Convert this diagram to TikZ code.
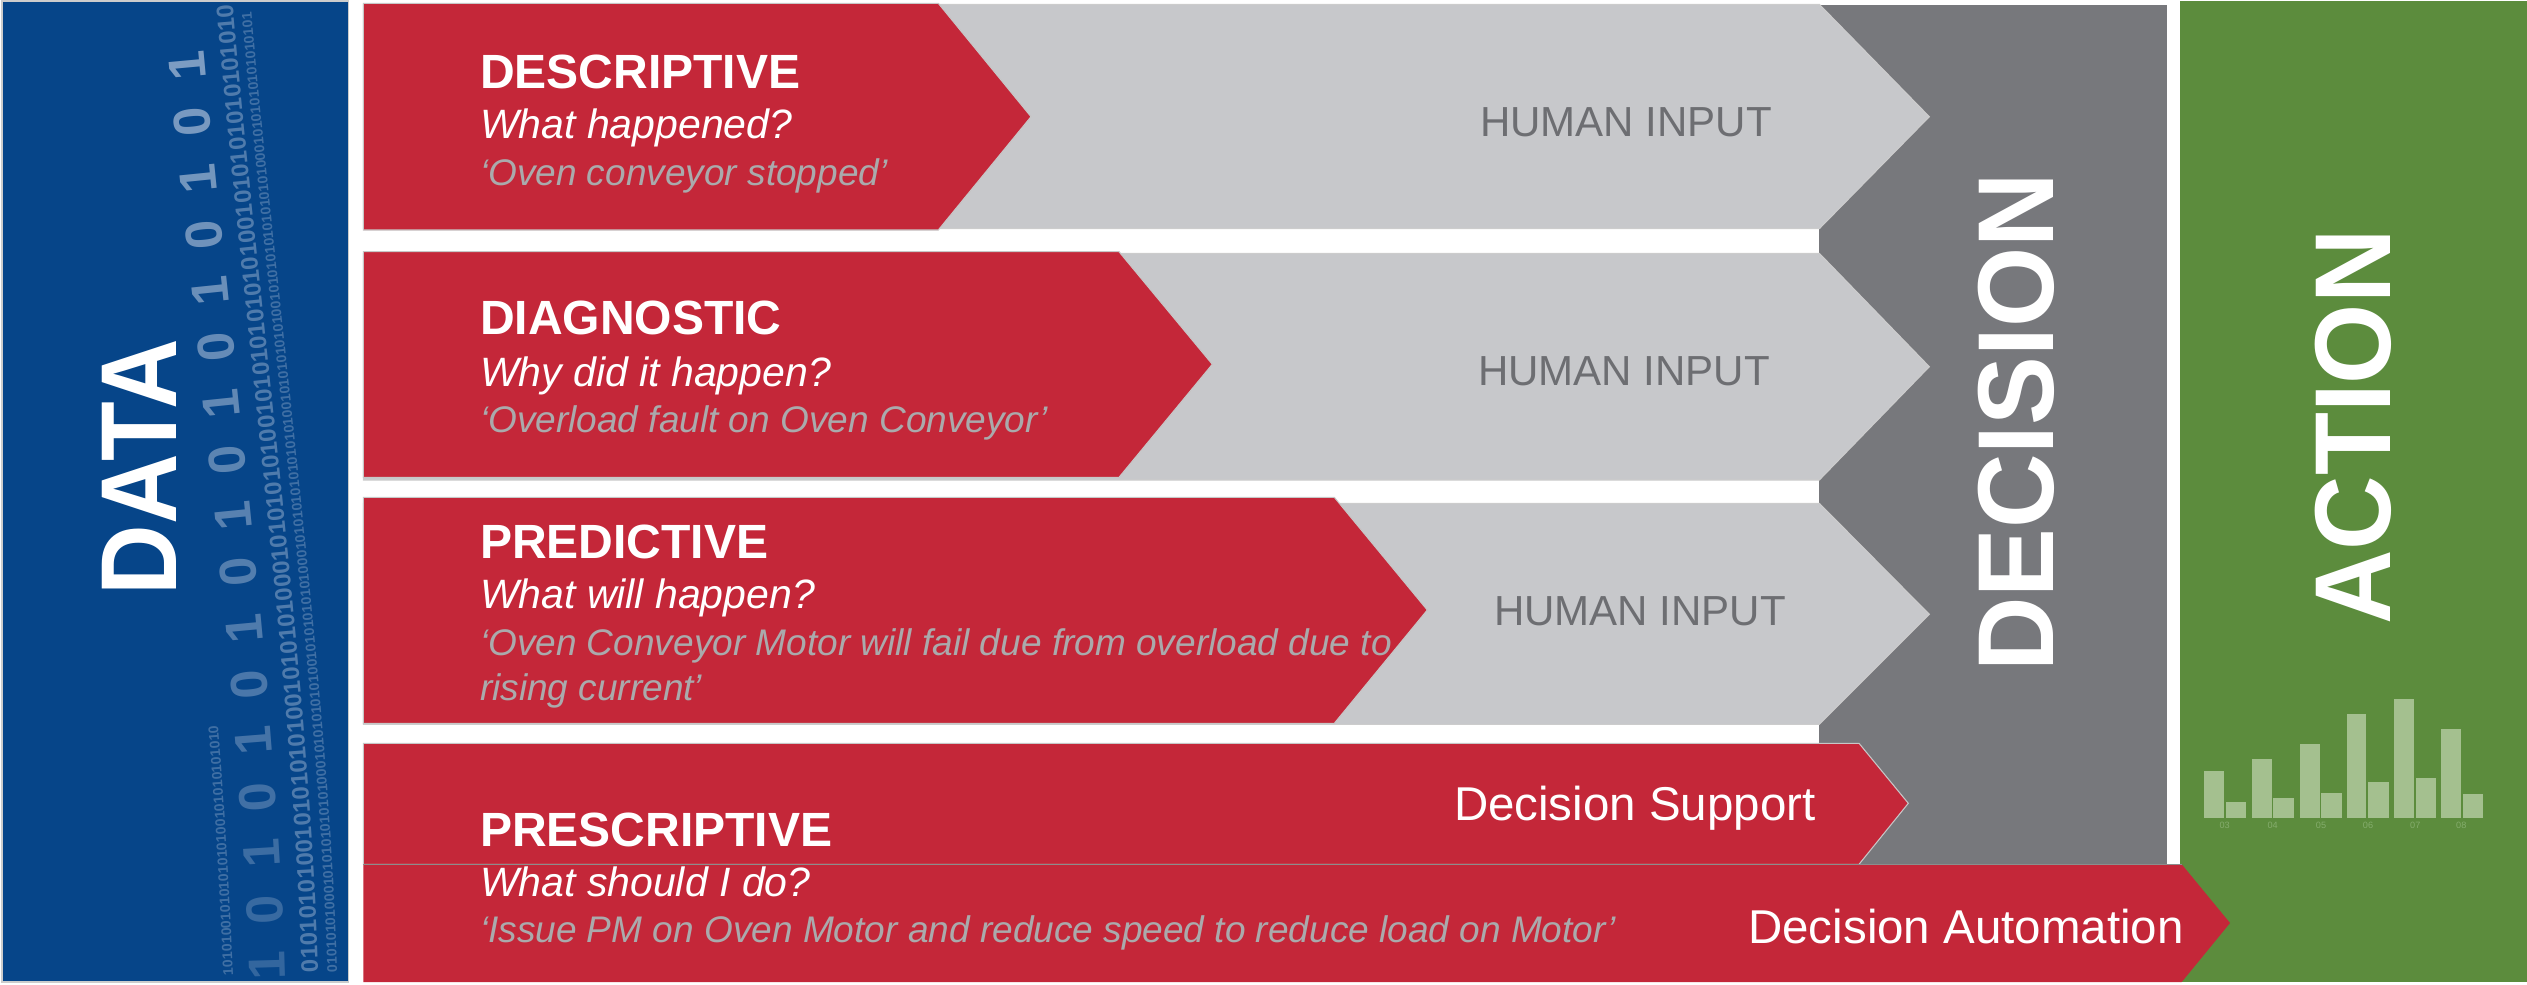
\documentclass[tikz,border=0pt]{standalone}
\usepackage{fontspec}
\setmainfont{Liberation Sans}
\usetikzlibrary{decorations.text,decorations.markings}
\definecolor{datablue}{RGB}{6,69,137}
\definecolor{bitblue}{RGB}{170,190,216}
\definecolor{anred}{RGB}{196,39,57}
\definecolor{lgray}{RGB}{199,200,203}
\definecolor{dgray}{RGB}{119,120,124}
\definecolor{actgreen}{RGB}{92,140,61}
\definecolor{barg}{RGB}{164,192,143}
\definecolor{labg}{RGB}{132,172,108}
\definecolor{quotegray}{RGB}{170,170,172}
\definecolor{hitext}{RGB}{109,110,114}
\newcount\bitcount
\begin{document}
\begin{tikzpicture}[x=0.01cm,y=-0.01cm]
\tikzset{
  every node/.style={inner sep=0pt, outer sep=0pt},
  redarrow/.style={fill=anred, draw=black!22, line width=0.3pt},
  grayarrow/.style={fill=lgray, draw=black!20, line width=0.3pt},
  titletext/.style={font=\fontsize{13.66pt}{16pt}\selectfont\bfseries, text=white, anchor=base west},
  subtext/.style={font=\fontsize{11.66pt}{14pt}\selectfont\itshape, text=white, anchor=base west},
  quotetext/.style={font=\fontsize{10.53pt}{12.8pt}\selectfont\itshape, text=quotegray, anchor=base west},
  humantext/.style={font=\fontsize{11.95pt}{14pt}\selectfont, text=hitext, anchor=base west},
  dectext/.style={font=\fontsize{13.5pt}{16pt}\selectfont, text=white, anchor=base west},
  bigword/.style={font=\fontsize{30.7pt}{32pt}\selectfont\bfseries, text=white, anchor=center},
  bigbit/.style={font=\fontsize{14.8pt}{15pt}\selectfont\bfseries, text=bitblue, anchor=base},
  chartbar/.style={fill=barg},
  chartlab/.style={font=\fontsize{2.6pt}{3pt}\selectfont, text=labg, anchor=center}
}
\useasboundingbox (0,0) rectangle (2527,984);

% ---------- DATA panel ----------
\fill[datablue, draw=black!20, line width=0.3pt] (2,1) rectangle (348.3,982);
% tiny streams
\begin{scope}[opacity=0.35]
  \path[decoration={text along path, text align=left,
    text={|\fontsize{4pt}{4pt}\selectfont\bfseries\color{bitblue}|0101010100010101010101010001010101010100101010101010001010101010101010100101010101010010101010101010101000101010101010101010010101010101010101010101}}, decorate]
    (337,972) .. controls (330,700) and (276,300) .. (251,8);
  \path[decoration={text along path, text align=left,
    text={|\fontsize{4pt}{4pt}\selectfont\bfseries\color{bitblue}|10101001010101010100101010101010010101}}, decorate]
    (233,975) .. controls (229,880) and (224,800) .. (218,725);
\end{scope}
% medium stream
\begin{scope}[opacity=0.45]
  \path[decoration={text along path, text align=left,
    text={|\fontsize{6.8pt}{7pt}\selectfont\bfseries\color{bitblue}|0101010100101010101001010101000101010101001010101010101001010101010101010010101010101}}, decorate]
    (318,972) .. controls (311,700) and (258,300) .. (233,8);
\end{scope}
% big digits
\global\bitcount=0
\path[decoration={markings, mark=between positions 0.01 and 0.99 step 0.565cm with {%
    \global\advance\bitcount by 1
    \pgfmathsetmacro{\bitop}{0.25+0.028*\the\bitcount}%
    \node[transform shape, bigbit, opacity=\bitop] (bit\the\bitcount) {\ifodd\bitcount 1\else 0\fi};}}, decorate]
  (285,975) .. controls (278,700) and (225,300) .. (200,5);
\node[bigword, rotate=90, xscale=0.905] (data) at (139,467) {DATA};

% ---------- DECISION and ACTION panels ----------
\fill[dgray] (1819.3,5) rectangle (2166.7,864.3);
\fill[actgreen] (2180,1) rectangle (2527,982);

% ---------- grey HUMAN INPUT arrows ----------
\path[grayarrow] (363.3,4.3) -- (1819.3,4.3) -- (1929.3,116.7) -- (1819.3,228.7) -- (363.3,228.7) -- cycle;
\path[grayarrow] (363.3,253.3) -- (1819.3,253.3) -- (1929.3,366.7) -- (1819.3,480) -- (363.3,480) -- cycle;
\path[grayarrow] (363.3,503.3) -- (1819.3,503.3) -- (1929.3,614.3) -- (1819.3,724.3) -- (363.3,724.3) -- cycle;

% ---------- red analytics arrows ----------
\path[redarrow] (363.3,3.3) -- (938.3,3.3) -- (1031,116.7) -- (938.3,230) -- (363.3,230) -- cycle;
\path[redarrow] (363.3,251.7) -- (1119,251.7) -- (1212.3,364.3) -- (1119,477.3) -- (363.3,477.3) -- cycle;
\path[redarrow] (363.3,497.3) -- (1334.3,497.3) -- (1427.3,610) -- (1334.3,723.3) -- (363.3,723.3) -- cycle;
\path[redarrow] (363.3,743.3) -- (1859,743.3) -- (1908.3,803.3) -- (1859,864.3) -- (363.3,864.3) -- cycle;
\path[fill=anred] (363.3,864.3) -- (2181.7,864.3) -- (2230,923) -- (2181.7,982) -- (363.3,982) -- cycle;
\draw[black!45, line width=0.35pt] (363.3,864.3) -- (2181.7,864.3);

% ---------- bar chart ----------
\foreach \xa/\ta/\xb/\tb/\lx/\lab in {2204/771/2226/802.3/2224.7/03, 2252/759/2273.3/798.3/2272.7/04, 2300/743.7/2321.3/793.3/2321/05, 2346.7/714/2368.3/781.7/2368/06, 2394.3/699/2416/778.3/2415.3/07, 2441.3/729.3/2463/794.3/2461.3/08}{
  \fill[chartbar] (\xa,\ta) rectangle ++(19.5,817.7-\ta);
  \fill[chartbar] (\xb,\tb) rectangle ++(20.4,817.7-\tb);
  \node[chartlab] (lab\lab) at (\lx,825.7) {\lab};
}

% ---------- texts ----------
\node[titletext] (t1) at (480,88.3) {DESCRIPTIVE};
\node[subtext] (s1) at (480,138.3) {What happened?};
\node[quotetext] (q1) at (480,185) {‘Oven conveyor stopped’};

\node[titletext] (t2) at (480,334.3) {DIAGNOSTIC};
\node[subtext] (s2) at (480,386.7) {Why did it happen?};
\node[quotetext] (q2) at (480,432.3) {‘Overload fault on Oven Conveyor’};

\node[titletext] (t3) at (480,558.3) {PREDICTIVE};
\node[subtext] (s3) at (480,608.3) {What will happen?};
\node[quotetext] (q3a) at (480,655) {‘Oven Conveyor Motor will fail due from overload due to};
\node[quotetext] (q3b) at (480,700) {rising current’};

\node[titletext] (t4) at (480,846) {PRESCRIPTIVE};
\node[subtext] (s4) at (480,896) {What should I do?};
\node[quotetext] (q4) at (480,942.7) {‘Issue PM on Oven Motor and reduce speed to reduce load on Motor’};

\node[humantext] (h1) at (1480,136.7) {HUMAN INPUT};
\node[humantext] (h2) at (1478,385) {HUMAN INPUT};
\node[humantext] (h3) at (1494,625.7) {HUMAN INPUT};

\node[dectext] (ds) at (1454,820.7) {Decision Support};
\node[dectext] (da) at (1748.3,943.3) {Decision Automation};

\node[bigword, rotate=90, xscale=0.955] (decision) at (2016,422.5) {DECISION};
\node[bigword, rotate=90, xscale=0.955] (action) at (2353,427) {ACTION};
\end{tikzpicture}
\end{document}
